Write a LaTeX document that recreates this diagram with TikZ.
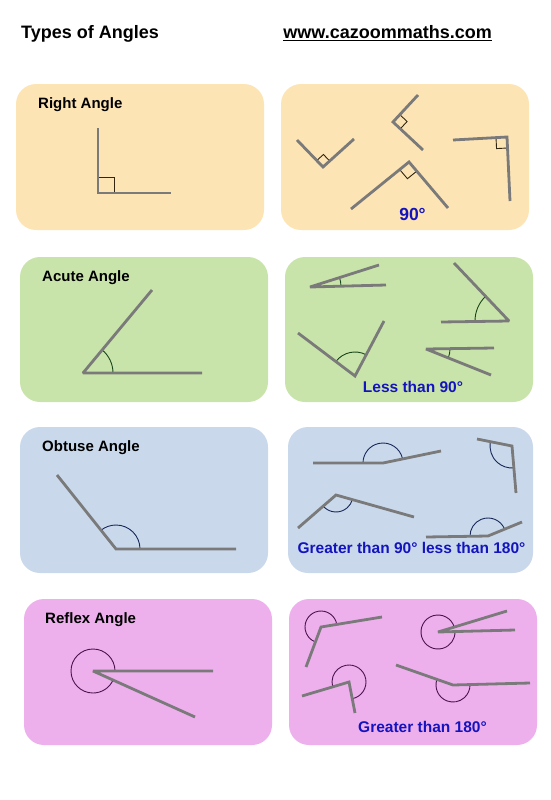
\documentclass[tikz,border=0pt]{standalone}
\usepackage{fontspec}
\setmainfont{Liberation Sans}
\usetikzlibrary{angles}

\definecolor{peach}{RGB}{253,228,181}
\definecolor{leaf}{RGB}{201,228,170}
\definecolor{steel}{RGB}{201,217,235}
\definecolor{orchid}{RGB}{237,176,237}
\definecolor{armgrey}{RGB}{122,122,122}
\definecolor{inkblue}{RGB}{20,20,190}
\definecolor{markbrown}{RGB}{50,38,15}
\definecolor{markgreen}{RGB}{25,70,25}
\definecolor{marknavy}{RGB}{25,40,90}
\definecolor{markpurple}{RGB}{75,20,80}

\begin{document}
\begin{tikzpicture}[x=1pt, y=1pt,
    card/.style={fill=#1, rounded corners=20pt},
    arm/.style={draw=armgrey, line width=2.8pt, miter limit=2},
    heading/.style={anchor=base west, inner sep=0pt, font=\fontsize{15}{18}\selectfont\bfseries},
    note/.style={anchor=base, inner sep=0pt, text=inkblue, font=\fontsize{15.5}{18}\selectfont\bfseries},
    sq/.style={draw=markbrown, line width=0.9pt, angle radius=#1},
    swing/.style={draw=#1, line width=0.9pt}
  ]
\useasboundingbox (0,0) rectangle (550,-800);

\node[anchor=base west, inner sep=0pt, font=\fontsize{18}{20}\selectfont\bfseries] (title) at (21,-39) {Types of Angles};
\node[anchor=base east, inner sep=0pt, font=\fontsize{18}{20}\selectfont\bfseries] (site) at (492,-39) {\underline{www.cazoommaths.com}};

% right angles
\path[card=peach] (16,-84) rectangle (264,-230);
\path[card=peach] (281,-84) rectangle (529,-230);
\node[heading] (rtitle) at (38,-108) {Right Angle};
\coordinate (rv) at (98,-193);
\coordinate (ra) at (98,-128);
\coordinate (rb) at (171,-193);
\pic[sq=16pt] {right angle = rb--rv--ra};
\draw[arm] (ra) -- (rv) -- (rb);

\coordinate (r1v) at (323,-167);
\coordinate (r1a) at (297,-140);
\coordinate (r1b) at (354,-139);
\coordinate (r2v) at (393,-122);
\coordinate (r2a) at (418,-95);
\coordinate (r2b) at (423,-150);
\coordinate (r3v) at (409,-162);
\coordinate (r3a) at (351,-209);
\coordinate (r3b) at (448,-208);
\coordinate (r4v) at (507,-137);
\coordinate (r4a) at (453,-140);
\coordinate (r4b) at (510,-201);
\pic[sq=9pt] {right angle = r1b--r1v--r1a};
\pic[sq=10pt] {right angle = r2b--r2v--r2a};
\pic[sq=12pt] {right angle = r3a--r3v--r3b};
\pic[sq=11pt] {right angle = r4a--r4v--r4b};
\draw[arm] (r1a) -- (r1v) -- (r1b);
\draw[arm] (r2a) -- (r2v) -- (r2b);
\draw[arm] (r3a) -- (r3v) -- (r3b);
\draw[arm] (r4a) -- (r4v) -- (r4b);
\node[note, font=\fontsize{17.5}{20}\selectfont\bfseries] (rnote) at (412.5,-220) {90°};

% acute angles
\path[card=leaf] (20,-257) rectangle (268,-402);
\path[card=leaf] (285,-257) rectangle (533,-402);
\node[heading] (atitle) at (42,-281) {Acute Angle};
\coordinate (av) at (83,-373);
\coordinate (aa) at (152,-290);
\coordinate (ab) at (202,-373);
\pic[swing=markgreen, angle radius=30pt] {angle = ab--av--aa};
\draw[arm] (aa) -- (av) -- (ab);

\coordinate (a1v) at (310,-287);
\coordinate (a1a) at (379,-265);
\coordinate (a1b) at (386,-285);
\coordinate (a2v) at (509,-321);
\coordinate (a2a) at (454,-263);
\coordinate (a2b) at (441,-322);
\coordinate (a3v) at (355,-376);
\coordinate (a3a) at (298,-333);
\coordinate (a3b) at (384,-321);
\coordinate (a4v) at (426,-349);
\coordinate (a4a) at (494,-348);
\coordinate (a4b) at (491,-375);
\pic[swing=markgreen, angle radius=31pt] {angle = a1b--a1v--a1a};
\pic[swing=markgreen, angle radius=34pt] {angle = a2a--a2v--a2b};
\pic[swing=markgreen, angle radius=24pt] {angle = a3b--a3v--a3a};
\pic[swing=markgreen, angle radius=24pt] {angle = a4b--a4v--a4a};
\draw[arm] (a1a) -- (a1v) -- (a1b);
\draw[arm] (a2a) -- (a2v) -- (a2b);
\draw[arm] (a3a) -- (a3v) -- (a3b);
\draw[arm] (a4a) -- (a4v) -- (a4b);
\node[note] (anote) at (413,-392) {Less than 90°};

% obtuse angles
\path[card=steel] (20,-427) rectangle (268,-573);
\path[card=steel] (288,-427) rectangle (533,-573);
\node[heading] (otitle) at (42,-451) {Obtuse Angle};
\coordinate (ov) at (116,-549);
\coordinate (oa) at (57,-475);
\coordinate (ob) at (236,-549);
\pic[swing=marknavy, angle radius=24pt] {angle = ob--ov--oa};
\draw[arm] (oa) -- (ov) -- (ob);

\coordinate (o1v) at (383,-463);
\coordinate (o1a) at (313,-463);
\coordinate (o1b) at (441,-451);
\coordinate (o2v) at (512,-446);
\coordinate (o2a) at (477,-439);
\coordinate (o2b) at (516,-493);
\coordinate (o3v) at (336,-495);
\coordinate (o3a) at (298,-528);
\coordinate (o3b) at (414,-517);
\coordinate (o4v) at (488,-536);
\coordinate (o4a) at (426,-537);
\coordinate (o4b) at (522,-522);
\pic[swing=marknavy, angle radius=20pt] {angle = o1b--o1v--o1a};
\pic[swing=marknavy, angle radius=22pt] {angle = o2a--o2v--o2b};
\pic[swing=marknavy, angle radius=17pt] {angle = o3a--o3v--o3b};
\pic[swing=marknavy, angle radius=18pt] {angle = o4b--o4v--o4a};
\draw[arm] (o1a) -- (o1v) -- (o1b);
\draw[arm] (o2a) -- (o2v) -- (o2b);
\draw[arm] (o3a) -- (o3v) -- (o3b);
\draw[arm] (o4a) -- (o4v) -- (o4b);
\node[note] (onote) at (411.5,-553) {Greater than 90° less than 180°};

% reflex angles
\path[card=orchid] (24,-599) rectangle (272,-745);
\path[card=orchid] (289,-599) rectangle (537,-745);
\node[heading] (xtitle) at (45,-623) {Reflex Angle};
\coordinate (xv) at (93,-671);
\coordinate (xa) at (213,-671);
\coordinate (xb) at (195,-717);
\pic[swing=markpurple, angle radius=22pt] {angle = xa--xv--xb};
\draw[arm] (xa) -- (xv) -- (xb);

\coordinate (x1v) at (321,-627);
\coordinate (x1a) at (382,-617);
\coordinate (x1b) at (306,-667);
\coordinate (x2v) at (438,-632);
\coordinate (x2a) at (507,-611);
\coordinate (x2b) at (515,-630);
\coordinate (x3v) at (349,-682);
\coordinate (x3a) at (302,-696);
\coordinate (x3b) at (355,-713);
\coordinate (x4v) at (453,-685);
\coordinate (x4a) at (396,-665);
\coordinate (x4b) at (530,-683);
\pic[swing=markpurple, angle radius=16pt] {angle = x1a--x1v--x1b};
\pic[swing=markpurple, angle radius=17pt] {angle = x2a--x2v--x2b};
\pic[swing=markpurple, angle radius=17pt] {angle = x3b--x3v--x3a};
\pic[swing=markpurple, angle radius=17pt] {angle = x4a--x4v--x4b};
\draw[arm] (x1a) -- (x1v) -- (x1b);
\draw[arm] (x2a) -- (x2v) -- (x2b);
\draw[arm] (x3a) -- (x3v) -- (x3b);
\draw[arm] (x4a) -- (x4v) -- (x4b);
\node[note] (xnote) at (422.5,-732) {Greater than 180°};
\end{tikzpicture}
\end{document}
